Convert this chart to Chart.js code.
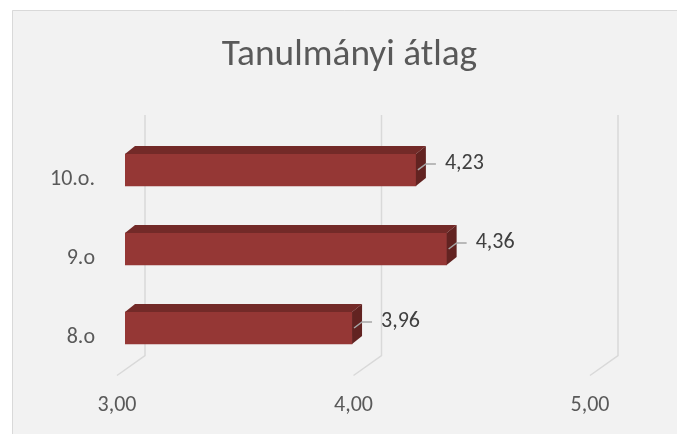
<!DOCTYPE html>
<html>
<head>
<meta charset="utf-8">
<script src="https://cdn.jsdelivr.net/npm/chart.js@4"></script>
<style>
html,body{margin:0;padding:0;background:#fff;}
#wrap{position:relative;width:677px;height:434px;}
</style>
</head>
<body>
<div id="wrap"><canvas id="chart" width="677" height="434"></canvas></div>
<script>
// data
const categories = ["10.o.", "9.o", "8.o"];
const averages = [4.23, 4.36, 3.96];
const xTicks = [3, 4, 5];

const FONT = "Carlito, Calibri, Lato, sans-serif";
const fmt = v => Number(v).toFixed(2).replace(".", ",");

// where the bar sits inside the 3D box, and its depth
const DX = 8, DY = -10;
const DEPTH_X = 10, DEPTH_Y = -8;

const threeD = {
  id: "threeD",
  beforeDraw(chart) {
    const ctx = chart.ctx;
    ctx.save();
    ctx.fillStyle = "#fff";
    ctx.fillRect(0, 0, chart.width, chart.height);
    ctx.fillStyle = "#f2f2f2";
    ctx.fillRect(12, 10, chart.width, chart.height);
    ctx.strokeStyle = "#d9d9d9";
    ctx.lineWidth = 1;
    ctx.beginPath();
    ctx.moveTo(12.5, chart.height);
    ctx.lineTo(12.5, 10.5);
    ctx.lineTo(chart.width, 10.5);
    ctx.stroke();
    ctx.restore();
  },
  beforeDatasetsDraw(chart) {
    const { ctx, chartArea: a, scales: { x } } = chart;
    // perspective gridlines: back wall + floor
    ctx.save();
    ctx.strokeStyle = "#d9d9d9";
    ctx.lineWidth = 1.5;
    xTicks.forEach(v => {
      const px = x.getPixelForValue(v);
      ctx.beginPath();
      ctx.moveTo(px + 28, a.top - 25.5);
      ctx.lineTo(px + 28, a.bottom - 22);
      ctx.lineTo(px, a.bottom - 2);
      ctx.stroke();
    });
    ctx.restore();
    ctx.save();
    ctx.translate(DX, DY);
  },
  afterDatasetsDraw(chart) {
    const ctx = chart.ctx;
    ctx.restore();
    const bars = chart.getDatasetMeta(0).data;
    bars.forEach((bar, i) => {
      const left = bar.base + DX, right = bar.x + DX;
      const top = bar.y - bar.height / 2 + DY, bottom = bar.y + bar.height / 2 + DY;
      const cy = bar.y + DY;
      ctx.save();
      // top face
      ctx.fillStyle = "#732a28";
      ctx.beginPath();
      ctx.moveTo(left, top);
      ctx.lineTo(left + DEPTH_X, top + DEPTH_Y);
      ctx.lineTo(right + DEPTH_X, top + DEPTH_Y);
      ctx.lineTo(right, top);
      ctx.closePath();
      ctx.fill();
      // side face
      ctx.fillStyle = "#622321";
      ctx.beginPath();
      ctx.moveTo(right, top);
      ctx.lineTo(right + DEPTH_X, top + DEPTH_Y);
      ctx.lineTo(right + DEPTH_X, bottom + DEPTH_Y);
      ctx.lineTo(right, bottom);
      ctx.closePath();
      ctx.fill();
      // leader line
      ctx.strokeStyle = "#a6a6a6";
      ctx.lineWidth = 1.5;
      ctx.beginPath();
      ctx.moveTo(right + 2, cy);
      ctx.lineTo(right + 10, cy - 6);
      ctx.lineTo(right + 20, cy - 6);
      ctx.stroke();
      // value label
      ctx.fillStyle = "#404040";
      ctx.font = "22px " + FONT;
      ctx.textAlign = "left";
      ctx.textBaseline = "middle";
      ctx.fillText(fmt(averages[i]), right + 29, cy - 6);
      ctx.restore();
    });
  }
};

new Chart(document.getElementById("chart"), {
  type: "bar",
  data: {
    labels: categories,
    datasets: [
      {
        label: "Tanulmányi átlag",
        data: averages,
        base: xTicks[0],
        backgroundColor: "#953735",
        borderWidth: 0,
        barThickness: 32
      }
    ]
  },
  options: {
    indexAxis: "y",
    responsive: false,
    animation: false,
    devicePixelRatio: 1,
    layout: { padding: { left: 22, right: 0, top: 0, bottom: 0 } },
    plugins: {
      legend: { display: false },
      tooltip: { enabled: false },
      title: {
        display: true,
        text: "Tanulmányi átlag",
        color: "#595959",
        font: { family: FONT, size: 37.3, weight: "normal" },
        padding: { top: 33.4, bottom: 62.3 }
      }
    },
    scales: {
      x: {
        type: "linear",
        min: 3,
        max: 5,
        afterBuildTicks: s => { s.ticks = xTicks.map(v => ({ value: v })); },
        afterFit: s => { s.height = 56.5; },
        grid: { display: false, drawTicks: false },
        border: { display: false },
        ticks: {
          padding: 15,
          color: "#595959",
          font: { family: FONT, size: 22 },
          callback: v => fmt(v)
        }
      },
      y: {
        afterFit: s => { s.width = 95; },
        grid: { display: false, drawTicks: false },
        border: { display: false },
        ticks: {
          padding: 22,
          color: "#595959",
          font: { family: FONT, size: 22 }
        }
      },
      // empty strip on the right so the title stays centred on the whole box
      yRight: {
        type: "category",
        position: "right",
        afterFit: s => { s.width = 87; },
        grid: { display: false, drawTicks: false },
        border: { display: false },
        ticks: { display: false }
      }
    }
  },
  plugins: [threeD]
});
</script>
</body>
</html>
